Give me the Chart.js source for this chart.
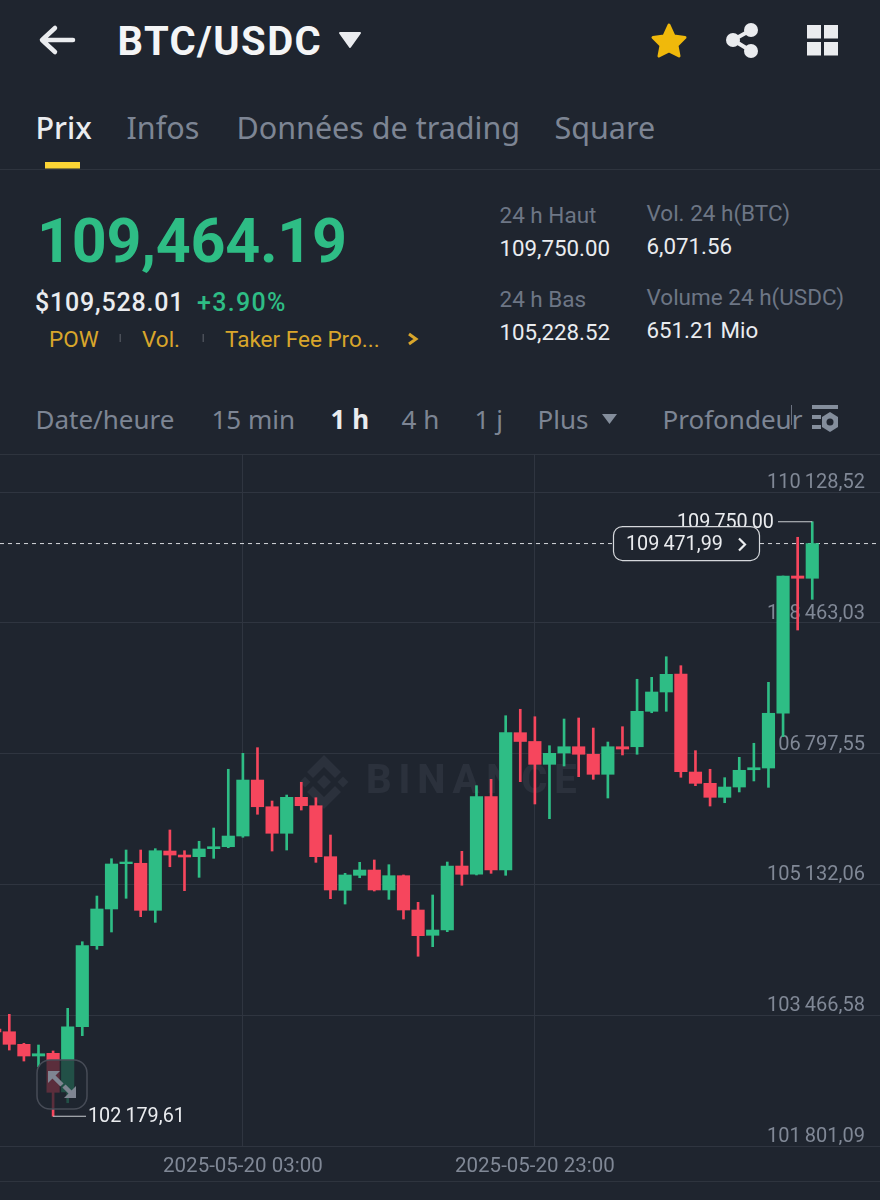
<!DOCTYPE html>
<html lang="fr">
<head>
<meta charset="utf-8">
<title>BTC/USDC</title>
<script src="https://cdn.jsdelivr.net/npm/chart.js@4"></script>
<style>
html,body{margin:0;padding:0;background:#1f252f;}
#page{position:relative;width:880px;height:1200px;overflow:hidden;background:#1f252f;font-family:Roboto,sans-serif;}
.t{position:absolute;white-space:nowrap;transform:translateY(-50%);line-height:1;}
.n{font-family:"Noto Sans",sans-serif;}
.rule{position:absolute;left:0;width:880px;height:1px;background:#2e343e;}
canvas{position:absolute;left:0;top:454px;}
svg{position:absolute;overflow:visible;}
</style>
</head>
<body>
<div id="page">
  <svg style="left:0;top:0" width="880" height="460">
    <g fill="none" stroke="#eaecef" stroke-width="4.5" stroke-linecap="round" stroke-linejoin="round">
      <path d="M73 40H43M55 28L42 40L55 52"/>
    </g>
    <path d="M340 33H360L350 47Z" fill="#eaecef" stroke="#eaecef" stroke-width="2" stroke-linejoin="round"/>
    <path d="M669 25L674 36L685 37.5L677 45.5L679 56L669 51L659 56L661 45.5L653 37.5L664 36Z" fill="#f0b90b" stroke="#f0b90b" stroke-width="3" stroke-linejoin="round"/>
    <g fill="#eaecef"><circle cx="751" cy="30" r="7"/><circle cx="751" cy="51" r="7"/><circle cx="733" cy="40" r="7"/></g>
    <path d="M751 30L733 40L751 51" fill="none" stroke="#eaecef" stroke-width="4"/>
    <g fill="#eaecef"><rect x="807" y="25" width="14" height="13.5"/><rect x="824" y="25" width="14" height="13.5"/><rect x="807" y="42" width="14" height="13.5"/><rect x="824" y="42" width="14" height="13.5"/></g>
    <rect x="45" y="162" width="35" height="6.5" fill="#fcd535"/>
    <rect x="119.5" y="334" width="1.5" height="8" fill="#4a4f58"/>
    <rect x="202.5" y="334" width="1.5" height="8" fill="#4a4f58"/>
    <path d="M409 334L416 339L409 344" fill="none" stroke="#d9a62b" stroke-width="3"/>
    <path d="M602 414H617L609.5 424Z" fill="#848e9c"/>
    <rect x="791" y="405" width="1" height="20" fill="#6b7280"/>
    <g fill="#848e9c"><rect x="812" y="405" width="26" height="4"/><rect x="812" y="415" width="9" height="4"/><rect x="812" y="425" width="9" height="4"/><path d="M830 412L838 417V427L830 432L822 427V417Z"/></g>
    <circle cx="830" cy="422" r="3.5" fill="#1f252f"/>
  </svg>

  <span class="t" style="left:117.5px;top:42px;font-size:40px;font-weight:700;color:#f4f5f6;letter-spacing:1.4px">BTC/USDC</span>

  <span class="t n" style="left:35.5px;top:127px;font-size:30.5px;font-weight:500;color:#eaecef">Prix</span>
  <span class="t n" style="left:126.5px;top:127px;font-size:30.5px;color:#7d8594">Infos</span>
  <span class="t n" style="left:236.5px;top:127px;font-size:30.5px;color:#7d8594">Données de trading</span>
  <span class="t n" style="left:554.5px;top:127px;font-size:30.5px;color:#7d8594">Square</span>
  <div class="rule" style="top:169px"></div>

  <span class="t" style="left:37px;top:241px;font-size:61px;font-weight:700;color:#2ebd85;letter-spacing:-0.3px">109,464.19</span>
  <span class="t" style="left:35px;top:302px;font-size:25px;font-weight:500;color:#eaecef;letter-spacing:.8px">$109,528.01</span>
  <span class="t" style="left:197px;top:302px;font-size:25px;font-weight:500;color:#2ebd85;letter-spacing:1.3px">+3.90%</span>
  <span class="t" style="left:49px;top:338.5px;font-size:22.5px;color:#d9a62b">POW</span>
  <span class="t" style="left:142px;top:338.5px;font-size:22.5px;color:#d9a62b">Vol.</span>
  <span class="t" style="left:225px;top:338.5px;font-size:22.5px;color:#d9a62b">Taker Fee Pro...</span>

  <span class="t" style="left:499.5px;top:215px;font-size:22.5px;color:#6d7685">24 h Haut</span>
  <span class="t" style="left:499.5px;top:248px;font-size:22.3px;color:#eaecef">109,750.00</span>
  <span class="t" style="left:499.5px;top:299px;font-size:22.5px;color:#6d7685">24 h Bas</span>
  <span class="t" style="left:499.5px;top:332px;font-size:22.3px;color:#eaecef">105,228.52</span>
  <span class="t" style="left:646.5px;top:213px;font-size:22.5px;color:#6d7685">Vol. 24 h(BTC)</span>
  <span class="t" style="left:646.5px;top:246px;font-size:22.3px;color:#eaecef">6,071.56</span>
  <span class="t" style="left:646.5px;top:297px;font-size:22.5px;color:#6d7685">Volume 24 h(USDC)</span>
  <span class="t" style="left:646.5px;top:330px;font-size:22.3px;color:#eaecef">651.21 Mio</span>

  <span class="t n" style="left:35.5px;top:419px;font-size:26px;color:#7d8594">Date/heure</span>
  <span class="t n" style="left:211.5px;top:419px;font-size:26px;color:#7d8594">15 min</span>
  <span class="t n" style="left:330.5px;top:419px;font-size:26px;font-weight:700;color:#eaecef">1 h</span>
  <span class="t n" style="left:401.5px;top:419px;font-size:26px;color:#7d8594">4 h</span>
  <span class="t n" style="left:474.5px;top:419px;font-size:26px;color:#7d8594">1 j</span>
  <span class="t n" style="left:537.5px;top:419px;font-size:26px;color:#7d8594">Plus</span>
  <span class="t n" style="left:662.5px;top:419px;font-size:26px;color:#7d8594">Profondeur</span>

  <div class="rule" style="top:454px"></div>
  <canvas id="chart" width="880" height="746"></canvas>
  <div class="rule" style="top:1181px"></div>
</div>

<script>
const opens  = [103291,103256,103096,102947,102981,102489,103320,104352,104819,105396,105401,104802,105557,105506,105485,105587,105612,105748,106461,106121,105783,106241,106134,105485,105057,105248,105315,105061,105243,104806,104484,104551,105366,105261,106249,105315,107064,106952,106661,106805,106885,106789,106534,106885,106885,107336,107582,107811,106563,106419,106241,106372,106592,106614,107311,109059,109030];
const highs  = [103291,103478,103109,103087,103011,103554,104402,104984,105459,105570,105570,105587,105825,105561,105681,105850,106598,106801,106873,106194,106270,106432,106236,105761,105273,105413,105443,105383,105252,104904,104997,105417,105553,106389,106470,107280,107362,107267,106898,107238,107251,107123,106945,107140,107744,107769,108031,107917,106835,106598,106491,106750,106929,107705,109059,109552,109750];
const lows   = [103253,103023,102883,102811,102180,102352,103206,104306,104526,104955,104721,104649,105357,105052,105222,105464,105599,105732,106025,105557,105570,106079,105413,104950,104882,105217,105048,104942,104691,104217,104339,104530,105121,105252,105273,105248,106440,106156,105969,106640,106504,106470,106232,106780,106789,107318,107336,106496,106389,106130,106172,106309,106449,106368,107013,108371,108762];
const closes = [103253,103096,102947,102976,102485,103320,104352,104819,105392,105417,104802,105561,105506,105481,105583,105612,105748,106461,106121,105783,106241,106134,105485,105061,105252,105315,105061,105243,104806,104479,104551,105366,105261,106249,105315,107064,106952,106661,106801,106885,106789,106534,106885,106856,107336,107582,107807,106567,106419,106241,106372,106585,106618,107311,109059,109030,109472];

const priceTicks  = [110128.52,108463.03,106797.55,105132.06,103466.58,101801.09];
const priceLabels = ['110\u2009128,52','108\u2009463,03','106\u2009797,55','105\u2009132,06','103\u2009466,58','101\u2009801,09'];
const timeTicks   = [17,37];
const timeLabels  = ['2025-05-20 03:00','2025-05-20 23:00'];

const lastPrice = 109471.99, lastLabel = '109\u2009471,99';
const highMark = {index:56, price:109750.00, label:'109\u2009750,00'};
const lowMark  = {index:4,  price:102179.61, label:'102\u2009179,61'};

const xMin = 0.363, xMax = 60.64, yMin = 101801.09, yMax = 110612.4;
const UP = '#2ebd85', DOWN = '#f6465d', BG = '#1f252f', GRID = '#2f3540', AXIS = '#808896';
const FONT = 'Roboto, sans-serif';

const colors = closes.map((c,i)=> c >= opens[i] ? UP : DOWN);

const overlays = {
  id:'overlays',
  beforeDatasetsDraw(chart){
    const {ctx} = chart;
    ctx.save();
    ctx.fillStyle = '#2b313c';
    ctx.font = '800 40px ' + FONT;
    ctx.textBaseline = 'middle';
    ctx.textAlign = 'left';
    ctx.letterSpacing = '6.8px';
    const cy = 782-454, cx = 324;
    ctx.fillText('BINANCE', 366, cy+1);
    ctx.letterSpacing = '0px';
    const dia = (x,y,r)=>{ctx.beginPath();ctx.moveTo(x,y-r);ctx.lineTo(x+r,y);ctx.lineTo(x,y+r);ctx.lineTo(x-r,y);ctx.closePath();ctx.fill();};
    dia(cx,cy,7); dia(cx-19,cy,5.5); dia(cx+19,cy,5.5);
    const chev = s=>{ctx.beginPath();ctx.moveTo(cx,cy-s*27);ctx.lineTo(cx+17,cy-s*10);ctx.lineTo(cx+11,cy-s*4);ctx.lineTo(cx,cy-s*15);ctx.lineTo(cx-11,cy-s*4);ctx.lineTo(cx-17,cy-s*10);ctx.closePath();ctx.fill();};
    chev(1); chev(-1);
    ctx.restore();
  },
  afterDatasetsDraw(chart){
    const {ctx, scales:{x,y}} = chart;
    ctx.save();
    /* expand button */
    const bx=37, by=1060-454, bw=50, bh=49;
    ctx.beginPath(); ctx.roundRect(bx,by,bw,bh,13);
    ctx.fillStyle='rgba(31,37,47,0.72)'; ctx.fill();
    ctx.strokeStyle='#474c57'; ctx.lineWidth=1.5; ctx.stroke();
    ctx.fillStyle='#7f8592'; ctx.strokeStyle='#7f8592';
    ctx.beginPath(); ctx.moveTo(48,1071-454); ctx.lineTo(60,1071-454); ctx.lineTo(48,1083-454); ctx.closePath(); ctx.fill();
    ctx.beginPath(); ctx.moveTo(76,1098-454); ctx.lineTo(64,1098-454); ctx.lineTo(76,1086-454); ctx.closePath(); ctx.fill();
    ctx.lineWidth=4.5;
    ctx.beginPath(); ctx.moveTo(51,1074-454); ctx.lineTo(62,1085-454); ctx.moveTo(73,1095-454); ctx.lineTo(64,1086-454); ctx.stroke();

    ctx.font='19.8px '+FONT; ctx.textBaseline='middle'; ctx.textAlign='left';
    /* high */
    const hx=x.getPixelForValue(highMark.index), hy=y.getPixelForValue(highMark.price);
    ctx.strokeStyle='#c9ccd1'; ctx.lineWidth=1.2;
    ctx.beginPath(); ctx.moveTo(778,hy); ctx.lineTo(hx,hy); ctx.stroke();
    ctx.fillStyle='#eaecef'; ctx.fillText(highMark.label,677,hy+1);
    /* low */
    const lx=x.getPixelForValue(lowMark.index), ly=y.getPixelForValue(lowMark.price);
    ctx.beginPath(); ctx.moveTo(lx,ly); ctx.lineTo(86,ly); ctx.stroke();
    ctx.fillText(lowMark.label,88,ly+1);
    /* last price pill */
    const py=y.getPixelForValue(lastPrice);
    ctx.beginPath(); ctx.roundRect(613.5,py-17,146,34,9);
    ctx.fillStyle=BG; ctx.fill();
    ctx.strokeStyle='#d5d8dc'; ctx.lineWidth=1.2; ctx.stroke();
    ctx.fillStyle='#eaecef'; ctx.fillText(lastLabel,626,py+1);
    ctx.strokeStyle='#eaecef'; ctx.lineWidth=2.2;
    ctx.beginPath(); ctx.moveTo(739,py-5); ctx.lineTo(745,py+1); ctx.lineTo(739,py+7); ctx.stroke();
    ctx.restore();
  }
};

new Chart(document.getElementById('chart').getContext('2d'),{
  type:'bar',
  data:{datasets:[
    {label:'Corps', order:1, grouped:false, barThickness:12.5, borderWidth:0, borderSkipped:false,
     backgroundColor:colors, data:opens.map((o,i)=>({x:i,y:[o,closes[i]]}))},
    {label:'Mèches', order:2, grouped:false, barThickness:2, borderWidth:0, borderSkipped:false,
     backgroundColor:colors, data:lows.map((l,i)=>({x:i,y:[l,highs[i]]}))},
    {type:'line', label:'Dernier prix', order:3, borderColor:'#d5d8dc', borderWidth:1, borderDash:[4,4],
     pointRadius:0, data:[{x:xMin,y:lastPrice},{x:xMax,y:lastPrice}]}
  ]},
  options:{
    responsive:false, animation:false, devicePixelRatio:1,
    layout:{padding:0},
    plugins:{legend:{display:false},tooltip:{enabled:false}},
    scales:{
      x:{type:'linear', min:xMin, max:xMax, offset:false,
         grid:{color:GRID, offset:false, drawTicks:false}, border:{display:false},
         afterBuildTicks(s){s.ticks=timeTicks.map(v=>({value:v}));},
         afterFit(s){s.height=54;s.paddingLeft=0;s.paddingRight=0;},
         ticks:{autoSkip:false, maxRotation:0, padding:9, color:AXIS, font:{family:FONT,size:20.5},
                callback:(v)=>timeLabels[timeTicks.indexOf(v)]}},
      y:{type:'linear', position:'right', min:yMin, max:yMax,
         grid:{color:GRID, drawTicks:false}, border:{display:false},
         afterBuildTicks(s){s.ticks=priceTicks.map(v=>({value:v}));},
         afterFit(s){s.width=0;s.paddingTop=0;s.paddingBottom=0;},
         ticks:{mirror:true, padding:-15, labelOffset:-9, autoSkip:false, color:AXIS, font:{family:FONT,size:20},
                callback:(v)=>priceLabels[priceTicks.indexOf(v)]}}
    }
  },
  plugins:[overlays]
});
</script>
</body>
</html>
